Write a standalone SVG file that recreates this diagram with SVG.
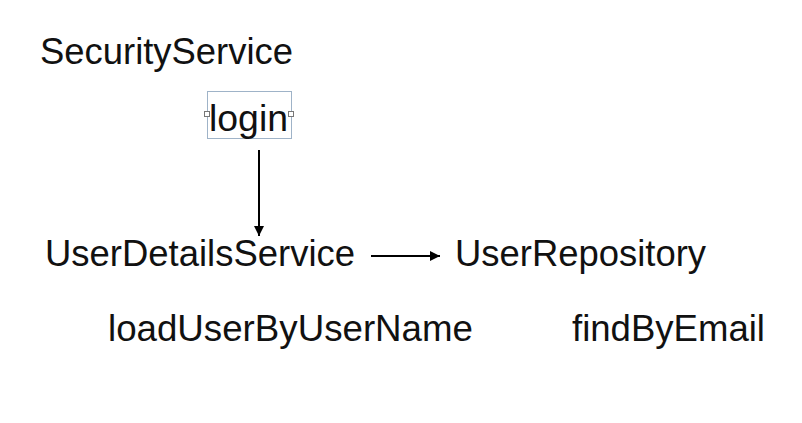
<svg xmlns="http://www.w3.org/2000/svg" width="802" height="423" viewBox="0 0 802 423">
<style>
text{font-family:"Liberation Sans",Arial,sans-serif;font-size:36px;fill:#111}
.c{stroke:#000;stroke-width:2;fill:none}
.h{fill:#fff;stroke:#777;stroke-width:1}
</style>
<defs>
<marker id="ah" viewBox="0 0 10 10" refX="10" refY="5" markerWidth="5" markerHeight="5" orient="auto" markerUnits="strokeWidth"><path d="M0,0L10,5L0,10z" fill="#000"/></marker>
</defs>
<rect width="802" height="423" fill="#fff"/>
<g id="securityService"><text x="40" y="64" textLength="253" lengthAdjust="spacingAndGlyphs">SecurityService</text></g>
<g id="login">
<rect x="207.5" y="91.5" width="84" height="47" fill="none" stroke="#9fb3c8" stroke-width="1"/>
<text x="209" y="131" textLength="79" lengthAdjust="spacingAndGlyphs">login</text>
<rect class="h" x="204.5" y="111.5" width="5" height="5"/>
<rect class="h" x="288.5" y="111.5" width="5" height="5"/>
</g>
<g id="userDetailsService"><text x="45" y="266" textLength="310" lengthAdjust="spacingAndGlyphs">UserDetailsService</text></g>
<g id="userRepository"><text x="455" y="266" textLength="251" lengthAdjust="spacingAndGlyphs">UserRepository</text></g>
<g id="loadUserByUserName"><text x="108" y="341" textLength="365" lengthAdjust="spacingAndGlyphs">loadUserByUserName</text></g>
<g id="findByEmail"><text x="572" y="341" textLength="193" lengthAdjust="spacingAndGlyphs">findByEmail</text></g>
<g id="connectors">
<path class="c" d="M259,150V236" marker-end="url(#ah)"/>
<path class="c" d="M371,256H440" marker-end="url(#ah)"/>
</g>
</svg>
